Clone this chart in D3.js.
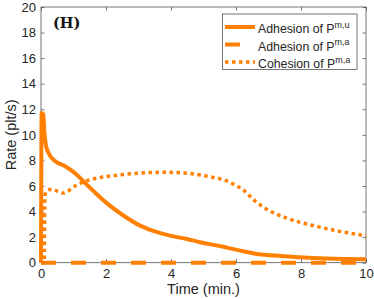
<!DOCTYPE html>
<html><head><meta charset="utf-8">
<script src="https://cdn.jsdelivr.net/npm/d3@7"></script>
<style>html,body{margin:0;padding:0;background:#fff;}svg{display:block;}</style>
</head><body>
<script>
const xTicks = [0, 2, 4, 6, 8, 10];
const yTicks = [0, 2, 4, 6, 8, 10, 12, 14, 16, 18, 20];
const adhesionMU = [[0,0],[0.02,11.7],[0.07,11.6],[0.1,10.3],[0.15,9.2],[0.25,8.5],[0.43,7.95],[0.74,7.55],[1.05,7.0],[1.35,6.25],[1.7,5.4],[2.1,4.5],[2.5,3.75],[3.05,2.9],[3.5,2.45],[4,2.1],[4.49,1.85],[4.9,1.6],[5.5,1.3],[6.03,1.0],[6.65,0.68],[7.4,0.52],[8.1,0.4],[8.8,0.33],[10,0.27]];
const adhesionMA = [[0,0],[10,0]];
const cohesionMA = [[0,0],[0.1,0],[0.12,5.3],[0.2,5.65],[0.35,5.75],[0.5,5.6],[0.69,5.45],[1.05,6.0],[1.35,6.36],[1.7,6.6],[2.2,6.8],[2.74,6.95],[3.35,7.05],[3.9,7.07],[4.4,7.02],[4.8,6.9],[5.2,6.72],[5.66,6.45],[5.95,6.1],[6.22,5.7],[6.53,4.95],[6.95,4.18],[7.6,3.45],[8.3,2.95],[9.1,2.5],[9.93,2.13],[10,2.1]];
const legendLabels = [["Adhesion of P","m,u"],["Adhesion of P","m,a"],["Cohesion of P","m,a"]];
const orange = "#FF8000";

const W = 374, H = 299;
const L = 41, R = 366, T = 7, B = 262.7;
const svg = d3.select("body").append("svg").attr("width", W).attr("height", H);
const x = d3.scaleLinear().domain([0, 10]).range([L, R]);
const y = d3.scaleLinear().domain([0, 20]).range([B, T]);
const axisColor = "#555";
const font = "'Liberation Sans', Arial, Helvetica, sans-serif";

// box
svg.append("rect").attr("x", L).attr("y", T).attr("width", R - L).attr("height", B - T)
  .attr("fill", "none").attr("stroke", axisColor).attr("stroke-width", 0.8);

function styleAxis(g) {
  g.select(".domain").remove();
  g.selectAll("line").attr("stroke", axisColor).attr("stroke-width", 0.8);
  g.selectAll("text").attr("fill", "#262626").style("font-family", font).style("font-size", "13px");
}
svg.append("g").attr("transform", `translate(0,${B})`)
  .call(d3.axisBottom(x).tickValues(xTicks).tickSizeInner(-3.5).tickSizeOuter(0).tickPadding(6).tickFormat(d3.format("d")))
  .call(styleAxis);
svg.append("g").attr("transform", `translate(0,${T})`)
  .call(d3.axisTop(x).tickValues(xTicks).tickSizeInner(-3.5).tickSizeOuter(0).tickFormat(""))
  .call(styleAxis);
svg.append("g").attr("transform", `translate(${L},0)`)
  .call(d3.axisLeft(y).tickValues(yTicks).tickSizeInner(-3.5).tickSizeOuter(0).tickPadding(5).tickFormat(d3.format("d")))
  .call(styleAxis);
svg.append("g").attr("transform", `translate(${R},0)`)
  .call(d3.axisRight(y).tickValues(yTicks).tickSizeInner(-3.5).tickSizeOuter(0).tickFormat(""))
  .call(styleAxis);

// labels
svg.append("text").attr("x", (L + R) / 2).attr("y", 293.5).attr("text-anchor", "middle")
  .style("font-family", font).style("font-size", "14.5px").attr("fill", "#262626").text("Time (min.)");
svg.append("text").attr("transform", `translate(16,${(T + B) / 2}) rotate(-90)`).attr("text-anchor", "middle")
  .style("font-family", font).style("font-size", "14.5px").attr("fill", "#262626").text("Rate (plt/s)");
svg.append("text").attr("x", 53).attr("y", 28)
  .style("font-family", "'DejaVu Serif', serif").style("font-weight", "bold").style("font-size", "14.5px")
  .attr("fill", "#111").text("(H)");

// lines
const line = d3.line().x(d => x(d[0])).y(d => y(d[1])).curve(d3.curveMonotoneX);
const series = [
  {data: adhesionMU, dash: null, w: 4},
  {data: adhesionMA, dash: "15,15", w: 4},
  {data: cohesionMA, dash: "3.5,3.5", w: 3.5}
];
series.forEach(s => {
  svg.append("path").datum(s.data).attr("d", line).attr("fill", "none")
    .attr("stroke", orange).attr("stroke-width", s.w)
    .attr("stroke-dasharray", s.dash).attr("stroke-linejoin", "round");
});

// legend
const lg = svg.append("g");
lg.append("rect").attr("x", 222.5).attr("y", 14).attr("width", 134.5).attr("height", 55.5)
  .attr("fill", "#fff").attr("stroke", axisColor).attr("stroke-width", 0.8);
const rowY = [27, 44.5, 62];
legendLabels.forEach((lab, i) => {
  const s = series[i];
  lg.append("line").attr("x1", 225).attr("x2", 255).attr("y1", rowY[i]).attr("y2", rowY[i])
    .attr("stroke", orange).attr("stroke-width", s.w).attr("stroke-dasharray", s.dash);
  const t = lg.append("text").attr("x", 258).attr("y", rowY[i] + 6)
    .style("font-family", font).style("font-size", "12.3px").attr("fill", "#262626");
  t.append("tspan").text(lab[0]);
  t.append("tspan").attr("dy", -5.5).style("font-size", "9px").text(lab[1]);
});
</script>
</body></html>
